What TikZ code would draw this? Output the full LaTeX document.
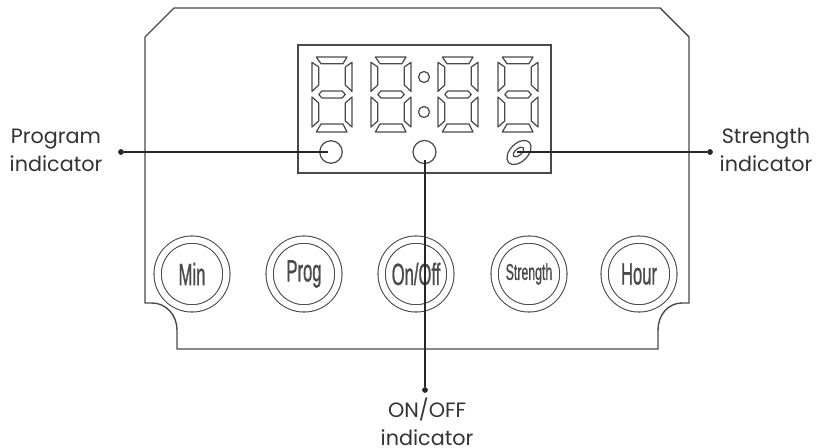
\documentclass[tikz,border=0pt]{standalone}
\usepackage{fontspec}
\setmainfont{Poppins}
\newfontfamily\btnfont[FakeBold=1.2]{Liberation Sans}
\usetikzlibrary{shapes.geometric}
\definecolor{panelgray}{HTML}{4A4A4A}
\tikzset{
  outline/.style={draw=panelgray, line width=0.8pt, line join=miter},
  thin line/.style={draw=panelgray, line width=0.7pt, line join=round},
  leader/.style={draw=black!85, line width=0.85pt},
  dot/.style={circle, fill=black!85, inner sep=0pt, minimum size=0.115cm},
  lamp/.style={circle, thin line, inner sep=0pt},
  btn/.style={circle, draw=panelgray, line width=0.6pt, double=white, double distance=0.125cm, inner sep=0pt, minimum size=1.375cm},
  btntext/.style={text=panelgray, xscale=0.54, inner sep=0pt},
  callout/.style={align=center, font=\fontsize{11.8}{15.8}\selectfont, text=black!80, inner sep=0pt}
}
\begin{document}
\begin{tikzpicture}[x=0.02cm, y=-0.02cm]
  \useasboundingbox (0,0) rectangle (820,448);
  % panel
  \draw[outline] (174,8) -- (660,8) -- (689,37) -- (689,303) -- (682,303)
    .. controls (668,303) and (658,315) .. (658,330) -- (658,349) -- (177,349) -- (177,330)
    .. controls (177,315) and (166,303) .. (152,303) -- (145,303) -- (145,37) -- cycle;
  \draw[outline] (298,45) rectangle (551,173);
  % digits
  \foreach \dx in {312,371,438,498} {
    \begin{scope}[shift={(\dx,57)}]
      \draw[thin line] (4.3,0) -- (35,0) -- (31,6.7) -- (9,6.7) -- cycle;
      \draw[thin line] (0,5.3) -- (6.7,10) -- (6.7,28) -- (0,34.5) -- cycle;
      \draw[thin line] (40,5.3) -- (33.3,10) -- (33.3,28) -- (40,34.5) -- cycle;
      \draw[thin line] (6.7,37.5) -- (10,34) -- (30,34) -- (33.3,37.5) -- (30,41) -- (10,41) -- cycle;
      \draw[thin line] (0,40) -- (6.7,46) -- (6.7,64) -- (0,70) -- cycle;
      \draw[thin line] (40,40) -- (33.3,46) -- (33.3,64) -- (40,70) -- cycle;
      \draw[thin line] (4.3,75) -- (35,75) -- (31,67) -- (9,67) -- cycle;
    \end{scope}
  }
  \node[lamp, minimum size=0.22cm] (colon_a) at (424,77) {};
  \node[lamp, minimum size=0.22cm] (colon_b) at (424,112) {};
  % indicators
  \node[lamp, minimum size=0.45cm] (prog_lamp) at (331,152) {};
  \node[lamp, minimum size=0.46cm] (onoff_lamp) at (424.5,152) {};
  \node[ellipse, thin line, rotate=45, inner sep=0pt, minimum width=0.58cm, minimum height=0.36cm] (strength_lamp) at (519,152.5) {};
  \node[ellipse, thin line, rotate=40, inner sep=0pt, minimum width=0.26cm, minimum height=0.13cm] (strength_mark) at (518.5,152) {};
  % buttons
  \foreach \bx/\bname/\btxt/\bsize in {192/min/Min/17.5, 304/prog/Prog/17.5, 416/onoff/On\slash Off/17.5, 529/strength/Strength/13, 639/hour/Hour/17.5} {
    \node[btn] (\bname) at (\bx,274) {};
    \node[btntext, font=\btnfont\fontsize{\bsize}{\bsize}\selectfont] at (\bname) {\btxt};
  }
  % callouts
  \node[dot] (prog_dot) at (121,152) {};
  \node[dot] (strength_dot) at (710,152) {};
  \node[dot] (onoff_dot) at (425,390) {};
  \coordinate (prog_end) at (328,152);
  \coordinate (strength_end) at (517,152);
  \coordinate (onoff_end) at (425,160);
  \draw[leader] (prog_dot) -- (prog_end);
  \draw[leader] (strength_dot) -- (strength_end);
  \draw[leader] (onoff_dot) -- (onoff_end);
  \node[callout] (prog_text) at (56,150) {Program\\indicator};
  \node[callout] (strength_text) at (766,150) {Strength\\indicator};
  \node[callout] (onoff_text) at (427,422) {ON/OFF\\indicator};
\end{tikzpicture}
\end{document}
